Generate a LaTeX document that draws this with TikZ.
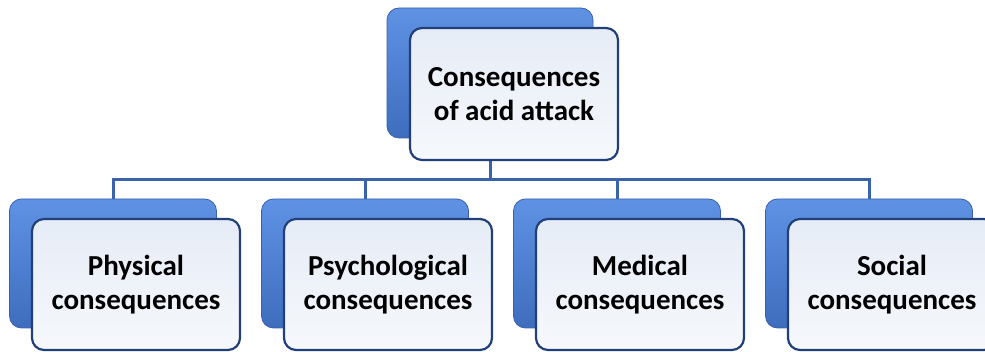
\documentclass[tikz,border=0pt]{standalone}
\usepackage{fontspec}
\setmainfont{Carlito}
\usetikzlibrary{positioning}
\definecolor{backtop}{HTML}{5F92E4}
\definecolor{backbot}{HTML}{3F6DBD}
\definecolor{backline}{HTML}{3960A8}
\definecolor{fronttop}{HTML}{E6ECF6}
\definecolor{frontbot}{HTML}{F6F8FC}
\definecolor{frontline}{HTML}{213F78}
\definecolor{busline}{HTML}{3A63AC}

\begin{document}
\begin{tikzpicture}[
                x=1pt, y=1pt,
                backbox/.style = {
                    draw = backline,
                    line width = 0.8pt,
                    top color = backtop,
                    bottom color = backbot,
                    rounded corners = 12pt,
                    minimum width = 207pt,
                    minimum height = 129pt,
                    inner sep = 0pt,
                    outer sep = 0pt
                },
                frontbox/.style = {
                    draw = frontline,
                    line width = 2.2pt,
                    top color = fronttop,
                    bottom color = frontbot,
                    rounded corners = 12pt,
                    minimum width = 208pt,
                    minimum height = 131pt,
                    inner sep = 0pt,
                    outer sep = 0pt,
                    align = center,
                    font = \fontsize{29}{34}\selectfont\bfseries
                },
                conn/.style = {
                    draw = busline,
                    line width = 3pt
                },
                node distance = {45pt}
            ]
            \useasboundingbox (0,0) rectangle (985,352);
            %
            \node[backbox, minimum width=206pt, minimum height=130pt] (rootback) at (490,279) {};
            %
            \node[backbox] (b1) at (113,88.5) {};
            \node[backbox, right=45pt of b1] (b2) {};
            \node[backbox, right=45pt of b2] (b3) {};
            \node[backbox, right=45pt of b3] (b4) {};
            %
            \draw[conn] (rootback.south) -- ++(0,-42) -| (b1.north);
            \draw[conn] (rootback.south) -- ++(0,-42) -| (b2.north);
            \draw[conn] (rootback.south) -- ++(0,-42) -| (b3.north);
            \draw[conn] (rootback.south) -- ++(0,-42) -| (b4.north);
            %
            \node[frontbox, minimum height=132pt] (root) at ([shift={(24pt,-21pt)}]rootback) {Consequences\\of acid attack};
            %
            \node[frontbox] (f1) at ([shift={(23pt,-21pt)}]b1) {Physical\\consequences};
            \node[frontbox] (f2) at ([shift={(23pt,-21pt)}]b2) {Psychological\\consequences};
            \node[frontbox] (f3) at ([shift={(23pt,-21pt)}]b3) {Medical\\consequences};
            \node[frontbox] (f4) at ([shift={(23pt,-21pt)}]b4) {Social\\consequences};
            %
        \end{tikzpicture}
\end{document}
